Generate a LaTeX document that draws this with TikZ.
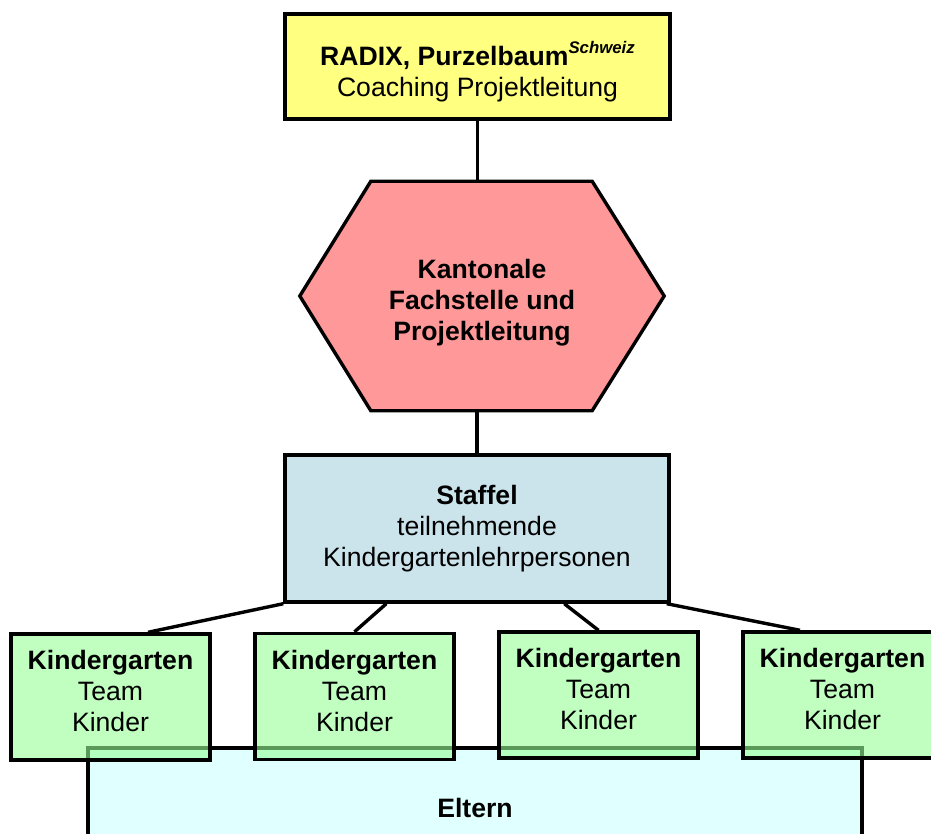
\documentclass[tikz,border=0pt]{standalone}
\usepackage{fontspec}
\setmainfont{Liberation Sans}
\usetikzlibrary{backgrounds}

\definecolor{radixgelb}{RGB}{255,255,128}
\definecolor{kantonrot}{RGB}{255,153,153}
\definecolor{staffelblau}{RGB}{203,228,236}
\definecolor{kigagruen}{RGB}{150,255,150}
\definecolor{elterncyan}{RGB}{224,255,255}

\begin{document}
\begin{tikzpicture}[x=0.5pt,y=-0.5pt,line width=1.7pt,
  every node/.style={font=\fontsize{13.3}{15.5}\selectfont,align=center,inner sep=0pt},
  box node/.style={rectangle,draw,minimum width=#1},
  kiga node/.style={box node=99.5pt,minimum height=63pt,fill=kigagruen,fill opacity=0.6}]

  \useasboundingbox (0,0) rectangle (931,834);
  \clip (0,0) rectangle (931,834);

  \node[box node=192.5pt,minimum height=52.5pt,fill=radixgelb] (radix) at (477.5,66.5) {};
  \node (radixtext) at ([yshift=-2.5pt]radix)
    {\textbf{RADIX, Purzelbaum}\raisebox{6pt}{\fontsize{8.4}{9}\selectfont\bfseries\itshape Schweiz}\\Coaching Projektleitung};
  \node[minimum width=180.5pt,minimum height=113pt] (fach) at (482,296) {};
  \draw[fill=kantonrot] ([xshift=35.5pt]fach.north west) -- ([xshift=-36pt]fach.north east)
    -- (fach.east) -- ([xshift=-36pt]fach.south east) -- ([xshift=35.5pt]fach.south west)
    -- (fach.west) -- cycle;
  \node (fachtext) at ([yshift=-3.5pt]fach)
    {\textbf{Kantonale}\\\textbf{Fachstelle und}\\\textbf{Projektleitung}};
  \node[box node=192pt,minimum height=73.5pt,fill=staffelblau] (staffel) at (477,528.5)
    {\textbf{Staffel}\\teilnehmende\\Kindergartenlehrpersonen};

  \node[box node=387pt,minimum height=60pt,fill=elterncyan] (eltern) at (475,808) {\textbf{Eltern}};

  \node[kiga node] (kiga1) at (110.5,697) {};
  \node[kiga node] (kiga2) at (354.5,696.5) {};
  \node[kiga node] (kiga3) at (598.5,695) {};
  \node[kiga node] (kiga4) at (842.5,695) {};
  \node (kiga1text) at ([yshift=3pt]kiga1) {\textbf{Kindergarten}\\Team\\Kinder};
  \node (kiga2text) at ([yshift=3pt]kiga2) {\textbf{Kindergarten}\\Team\\Kinder};
  \node (kiga3text) at ([yshift=3pt]kiga3) {\textbf{Kindergarten}\\Team\\Kinder};
  \node (kiga4text) at ([yshift=3pt]kiga4) {\textbf{Kindergarten}\\Team\\Kinder};

  \draw (radix.south) -- (radix.south |- fach.north);
  \draw (staffel.north |- fach.south) -- (staffel.north);
  \draw (staffel.south west) -- ([xshift=18.75pt]kiga1.north);
  \draw ([xshift=51.5pt]staffel.south west) -- (kiga2.north);
  \draw ([xshift=140.5pt]staffel.south west) -- (kiga3.north);
  \draw ([xshift=-2pt]staffel.south east) -- ([xshift=-21.25pt]kiga4.north);

\end{tikzpicture}
\end{document}
